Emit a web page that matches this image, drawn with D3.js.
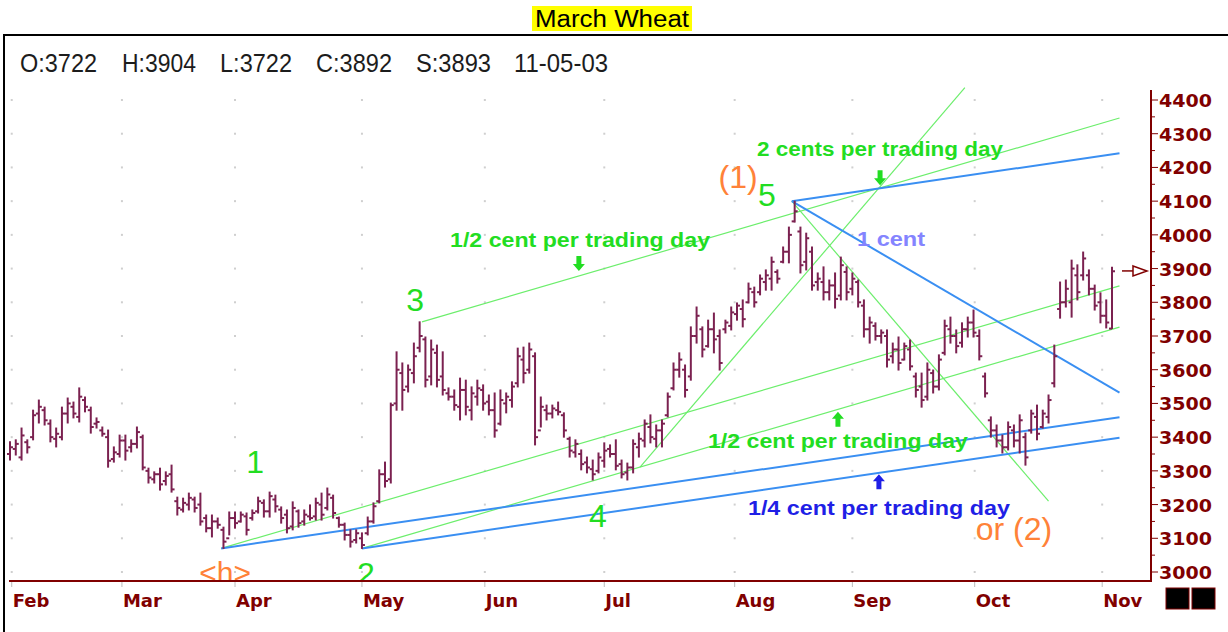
<!DOCTYPE html>
<html lang="en">
<head>
<meta charset="UTF-8">
<title>March Wheat</title>
<script src="https://cdn.jsdelivr.net/npm/d3@7"></script>
<style>
  body { margin: 0; background: #fff; }
  text { font-family: "Liberation Sans", Arial, sans-serif; }
</style>
</head>
<body>
<script>
// daily bars, one per trading day (Feb 3 .. Nov 5 2003), prices in 1/10 cent
var highs = [
  3386,3392,3427,3392,3480,3510,3489,3451,3427,3489,
  3516,3504,3546,3519,3489,3457,3430,3421,3371,3406,
  3406,3392,3430,3406,3308,3297,3308,3297,3317,3222,
  3219,3234,3222,3234,3169,3169,3160,3133,3178,3178,
  3178,3175,3184,3222,3214,3237,3228,3193,3184,3208,
  3184,3184,3199,3219,3234,3249,3228,3163,3145,3125,
  3125,3116,3163,3205,3303,3326,3501,3653,3620,3614,
  3679,3742,3697,3688,3673,3653,3546,3540,3575,3569,
  3549,3569,3555,3525,3531,3540,3531,3564,3664,3667,
  3679,3650,3519,3495,3495,3504,3472,3400,3392,3362,
  3341,3332,3353,3383,3377,3392,3332,3323,3392,3412,
  3451,3466,3436,3451,3531,3620,3650,3614,3727,3786,
  3727,3747,3768,3718,3747,3786,3798,3807,3857,3845,
  3881,3896,3934,3896,3964,4023,4100,4023,4005,3964,
  3887,3905,3866,3887,3934,3905,3887,3866,3807,3756,
  3739,3718,3718,3679,3697,3679,3688,3590,3590,3620,
  3599,3644,3747,3756,3718,3739,3756,3777,3718,3590,
  3460,3436,3406,3445,3436,3466,3412,3480,3495,3480,
  3525,3673,3860,3866,3925,3911,3949,3896,3851,3828,
  3807,3904];
var lows = [
  3332,3347,3332,3353,3392,3442,3436,3386,3371,3392,
  3442,3457,3445,3475,3412,3427,3403,3311,3326,3341,
  3332,3356,3368,3303,3264,3264,3243,3258,3237,3169,
  3178,3184,3178,3139,3119,3104,3130,3070,3110,3130,
  3148,3110,3154,3175,3163,3163,3178,3145,3116,3125,
  3133,3139,3154,3154,3154,3184,3160,3133,3095,3074,
  3086,3070,3110,3145,3205,3252,3264,3480,3480,3534,
  3561,3653,3549,3555,3549,3525,3510,3480,3451,3466,
  3451,3495,3480,3466,3400,3436,3472,3489,3549,3561,
  3590,3377,3430,3451,3457,3466,3400,3341,3341,3303,
  3294,3273,3294,3311,3341,3303,3279,3273,3294,3341,
  3371,3383,3371,3371,3460,3540,3578,3519,3569,3679,
  3638,3667,3650,3599,3709,3718,3747,3727,3798,3786,
  3822,3836,3836,3857,3917,3917,4038,3887,3896,3836,
  3836,3807,3807,3783,3807,3807,3822,3786,3697,3679,
  3688,3679,3608,3620,3599,3629,3599,3519,3489,3510,
  3531,3540,3644,3679,3650,3667,3697,3697,3629,3519,
  3400,3371,3353,3362,3371,3353,3317,3412,3392,3427,
  3442,3549,3753,3786,3756,3807,3866,3822,3777,3739,
  3724,3722];
var opens = [
  3350,3365,3340,3385,3400,3470,3480,3440,3395,3400,
  3470,3490,3460,3510,3480,3440,3420,3400,3335,3350,
  3390,3370,3380,3400,3300,3275,3290,3270,3290,3210,
  3185,3200,3215,3200,3160,3130,3150,3125,3100,3160,
  3150,3165,3160,3180,3205,3180,3215,3185,3170,3135,
  3180,3150,3165,3165,3200,3190,3220,3160,3140,3110,
  3095,3100,3115,3150,3210,3290,3275,3500,3590,3550,
  3590,3665,3690,3580,3650,3580,3530,3520,3490,3540,
  3480,3520,3540,3505,3480,3440,3500,3510,3560,3630,
  3600,3640,3420,3480,3470,3480,3465,3395,3355,3350,
  3325,3305,3300,3330,3365,3350,3320,3295,3310,3370,
  3390,3430,3395,3420,3465,3545,3600,3600,3580,3700,
  3720,3670,3720,3700,3720,3730,3765,3780,3800,3830,
  3830,3860,3870,3890,3920,3950,4040,4010,3920,3950,
  3860,3860,3830,3850,3820,3890,3840,3860,3790,3720,
  3730,3700,3700,3640,3660,3630,3660,3580,3550,3520,
  3590,3550,3650,3720,3700,3680,3720,3740,3700,3580,
  3450,3420,3390,3370,3420,3390,3400,3420,3460,3430,
  3460,3560,3780,3800,3800,3880,3880,3880,3840,3800,
  3760,3722];
var closes = [
  3370,3380,3405,3370,3465,3490,3450,3400,3410,3470,
  3500,3470,3520,3490,3430,3445,3410,3330,3355,3390,
  3360,3380,3415,3310,3280,3290,3260,3285,3245,3190,
  3205,3220,3190,3150,3130,3150,3140,3090,3160,3145,
  3170,3125,3175,3210,3180,3225,3195,3160,3130,3190,
  3145,3170,3160,3205,3170,3230,3175,3140,3110,3090,
  3115,3080,3150,3195,3290,3270,3495,3600,3540,3600,
  3640,3700,3570,3660,3570,3540,3520,3495,3540,3490,
  3530,3545,3500,3480,3420,3510,3520,3550,3640,3590,
  3660,3400,3490,3470,3485,3475,3420,3360,3380,3320,
  3310,3290,3340,3360,3350,3315,3290,3310,3380,3395,
  3440,3400,3420,3440,3520,3600,3630,3540,3700,3760,
  3660,3720,3690,3620,3740,3770,3790,3750,3840,3800,
  3870,3880,3920,3870,3950,4000,4070,3910,3990,3850,
  3870,3830,3850,3810,3910,3830,3870,3800,3720,3740,
  3700,3710,3630,3660,3620,3670,3610,3540,3510,3600,
  3550,3630,3730,3700,3670,3720,3740,3710,3640,3530,
  3420,3390,3370,3430,3390,3450,3340,3470,3410,3470,
  3510,3640,3800,3840,3900,3830,3930,3840,3790,3760,
  3740,3892];

var months = ["Feb","Mar","Apr","May","Jun","Jul","Aug","Sep","Oct","Nov"];
var monthStart = [0.3, 19.4, 39, 61, 82.3, 103, 125.6, 146, 167.2, 189.3]; // bar index
var priceTicks = [3000,3100,3200,3300,3400,3500,3600,3700,3800,3900,4000,4100,4200,4300,4400];
var headerItems = ["O:3722","H:3904","L:3722","C:3892","S:3893","11-05-03"];
var lastSettle = 3893;

// pivots [bar index, price] and the rate lines drawn from them (price units per trading day)
var pivots = {h:[36.6,3070], two:[61,3070], three:[71.4,3742], four:[109.2,3311], five:[135.5,4100]};
var greenLines = [["three",5,192.3],["h",5,192.3],["two",5,192.3],["four",20,165.5],["five",-20,180]];
var blueLines = [["five",2.5,192.3],["five",-10,192.3],["h",2.5,192.3],["two",2.5,192.3]];

// annotations [bar index, price, text]
var waveLabels = [[42.5,3294,"1"],[61.7,2962,"2"],[70.2,3774,"3"],[101.9,3133,"4"],[131.2,4086,"5"]];
var orangeLabels = [[126.2,4139,"(1)",32],[37.3,2966,"<h>",30],[174,3095,"or (2)",32]];
var rateLabels = [
  [98.8,3964,"1/2 cent per trading day","#22dd22",260],
  [150.8,4234,"2 cents per trading day","#22dd22",246],
  [152.7,3967,"1 cent","#8484ff",68],
  [143.5,3368,"1/2 cent per trading day","#22dd22",260],
  [150.6,3169,"1/4 cent per trading day","#1f1fe6",262]];
var arrows = [[98.6,3893,"down","#22dd22"],[150.8,4147,"down","#22dd22"],
  [143.5,3475,"up","#22dd22"],[150.6,3290,"up","#1f1fe6"]];

var W = 1228, H = 632;
var axisRed = "#800000";
var barColor = "#7b2150";

var svg = d3.select("body").append("svg")
    .attr("width", W).attr("height", H);

var x = d3.scaleLinear().domain([0, highs.length - 1]).range([10, 1112]);
var y = d3.scaleLinear().domain([3000, 4400]).range([572, 100]);
var axisX = 1151, axisY = 581;

// title
svg.append("rect").attr("x",532).attr("y",6).attr("width",160).attr("height",25).attr("fill","#ffff00");
svg.append("text").attr("x",535).attr("y",27).attr("font-size",23)
    .attr("textLength",154).attr("lengthAdjust","spacingAndGlyphs")
    .attr("fill","#000").text("March Wheat");

// frame
svg.append("rect").attr("x",4).attr("y",35).attr("width",1240).attr("height",620)
    .attr("fill","none").attr("stroke","#000").attr("stroke-width",2);

// header
var headX = [20,122,220,316,416,514], headW = [77,74,72,76,75,94];
svg.selectAll(".head").data(headerItems).enter().append("text")
    .attr("x",(d,i)=>headX[i]).attr("y",72)
    .attr("font-size",26).attr("fill","#1c1c1c")
    .attr("textLength",(d,i)=>headW[i]).attr("lengthAdjust","spacingAndGlyphs")
    .text(d=>d);

// dotted grid
var gridPts = [];
monthStart.forEach(m => priceTicks.forEach(p => gridPts.push([m,p])));
svg.selectAll(".dot").data(gridPts).enter().append("rect")
    .attr("x",d=>x(d[0])-1).attr("y",d=>y(d[1])-1)
    .attr("width",2).attr("height",2).attr("fill","#cfcfcf");

svg.append("clipPath").attr("id","plot").append("rect")
    .attr("x",5).attr("y",37).attr("width",axisX-5).attr("height",axisY-37);
var plot = svg.append("g").attr("clip-path","url(#plot)");

// rate lines
function lineEnds(d){
  var p = pivots[d[0]];
  return [[p[0],p[1]],[d[2], p[1] + d[1]*(d[2]-p[0])]];
}
plot.selectAll(".gl").data(greenLines).enter().append("line")
    .attr("x1",d=>x(lineEnds(d)[0][0])).attr("y1",d=>y(lineEnds(d)[0][1]))
    .attr("x2",d=>x(lineEnds(d)[1][0])).attr("y2",d=>y(lineEnds(d)[1][1]))
    .attr("stroke","#6cee6c").attr("stroke-width",1.2);
plot.selectAll(".bl").data(blueLines).enter().append("line")
    .attr("x1",d=>x(lineEnds(d)[0][0])).attr("y1",d=>y(lineEnds(d)[0][1]))
    .attr("x2",d=>x(lineEnds(d)[1][0])).attr("y2",d=>y(lineEnds(d)[1][1]))
    .attr("stroke","#3a8ff2").attr("stroke-width",2);

// OHLC bars
var bars = plot.selectAll(".bar").data(highs).enter().append("g");
bars.append("line")
    .attr("x1",(d,i)=>x(i)).attr("x2",(d,i)=>x(i))
    .attr("y1",d=>y(d)-0.5).attr("y2",(d,i)=>y(lows[i])+0.5)
    .attr("stroke",barColor).attr("stroke-width",2);
bars.append("line")
    .attr("x1",(d,i)=>x(i)-3).attr("x2",(d,i)=>x(i))
    .attr("y1",(d,i)=>y(opens[i])).attr("y2",(d,i)=>y(opens[i]))
    .attr("stroke",barColor).attr("stroke-width",2);
bars.append("line")
    .attr("x1",(d,i)=>x(i)).attr("x2",(d,i)=>x(i)+3)
    .attr("y1",(d,i)=>y(closes[i])).attr("y2",(d,i)=>y(closes[i]))
    .attr("stroke",barColor).attr("stroke-width",2);

// labels
plot.selectAll(".wave").data(waveLabels).enter().append("text")
    .attr("x",d=>x(d[0])).attr("y",d=>y(d[1]))
    .attr("text-anchor","middle").attr("font-size",32).attr("fill","#22dd22")
    .text(d=>d[2]);
plot.selectAll(".orange").data(orangeLabels).enter().append("text")
    .attr("x",d=>x(d[0])).attr("y",d=>y(d[1]))
    .attr("text-anchor","middle").attr("font-size",d=>d[3]).attr("fill","#ff8238")
    .text(d=>d[2]);
plot.selectAll(".rate").data(rateLabels).enter().append("text")
    .attr("x",d=>x(d[0])-d[4]/2).attr("y",d=>y(d[1]))
    .attr("font-size",20).attr("font-weight","bold").attr("fill",d=>d[3])
    .attr("textLength",d=>d[4]).attr("lengthAdjust","spacingAndGlyphs")
    .text(d=>d[2]);
plot.selectAll(".arrow").data(arrows).enter().append("path")
    .attr("transform",d=>"translate("+x(d[0])+","+y(d[1])+")"+(d[2]=="up"?" scale(1,-1)":""))
    .attr("d","M-2.5,-15 L2.5,-15 L2.5,-7 L6,-7 L0,0 L-6,-7 L-2.5,-7 Z")
    .attr("fill",d=>d[3]);

// right price axis
svg.append("line").attr("x1",axisX).attr("x2",axisX).attr("y1",90).attr("y2",axisY)
    .attr("stroke",axisRed).attr("stroke-width",2);
var minor = d3.range(3050, 4400, 100);
svg.selectAll(".mt").data(minor).enter().append("line")
    .attr("x1",axisX).attr("x2",axisX+4).attr("y1",d=>y(d)).attr("y2",d=>y(d))
    .attr("stroke",axisRed).attr("stroke-width",1);
svg.selectAll(".pt").data(priceTicks).enter().append("line")
    .attr("x1",axisX).attr("x2",axisX+7).attr("y1",d=>y(d)).attr("y2",d=>y(d))
    .attr("stroke",axisRed).attr("stroke-width",1);
svg.selectAll(".pl").data(priceTicks).enter().append("text")
    .attr("x",1159).attr("y",d=>y(d)+7)
    .style("font-family","'DejaVu Sans', sans-serif").attr("font-weight","bold")
    .attr("font-size",18).attr("fill",axisRed)
    .attr("textLength",53).attr("lengthAdjust","spacingAndGlyphs").text(d=>d);

// settle marker
var sy = y(lastSettle);
svg.append("line").attr("x1",axisX-29).attr("x2",axisX-17).attr("y1",sy).attr("y2",sy)
    .attr("stroke",axisRed).attr("stroke-width",1.5);
svg.append("path").attr("d","M"+(axisX-18)+","+(sy-5)+" L"+(axisX-4)+","+sy+" L"+(axisX-18)+","+(sy+5)+" Z")
    .attr("fill","#fff").attr("stroke",axisRed).attr("stroke-width",1.5);

// bottom month axis
svg.append("line").attr("x1",9).attr("x2",axisX+1).attr("y1",axisY).attr("y2",axisY)
    .attr("stroke",axisRed).attr("stroke-width",2);
svg.selectAll(".mtk").data(monthStart).enter().append("line")
    .attr("x1",d=>x(d)).attr("x2",d=>x(d)).attr("y1",axisY+1).attr("y2",axisY+6)
    .attr("stroke","#bbb").attr("stroke-width",1);
svg.selectAll(".ml").data(months).enter().append("text")
    .attr("x",(d,i)=>x(monthStart[i])+1).attr("y",607)
    .style("font-family","'DejaVu Sans', sans-serif").attr("font-weight","bold")
    .attr("font-size",18).attr("fill",axisRed).text(d=>d);

// the two black buttons in the corner
svg.selectAll(".btn").data([0,1]).enter().append("rect")
    .attr("x",d=>1166+d*26).attr("y",588).attr("width",23).attr("height",21)
    .attr("fill","#000").attr("stroke",axisRed).attr("stroke-width",1);
</script>
</body>
</html>
